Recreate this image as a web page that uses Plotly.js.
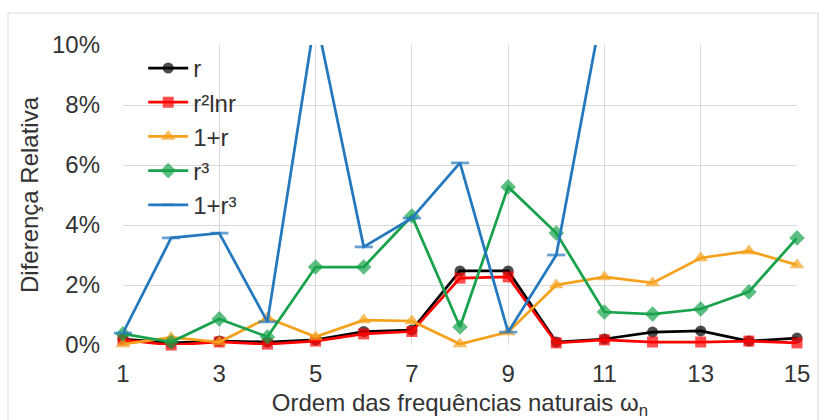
<!DOCTYPE html>
<html>
<head>
<meta charset="utf-8">
<script src="https://cdn.plot.ly/plotly-3.0.1.min.js"></script>
<style>
html,body{margin:0;padding:0;background:#fff;}
#chart{width:819px;height:420px;}
</style>
</head>
<body>
<div id="chart"></div>
<script>
// Data (relative difference, as fractions)
const order = [1,2,3,4,5,6,7,8,9,10,11,12,13,14,15];
const seriesNames = ["r", "r²lnr", "1+r", "r³", "1+r³"];
const r_vals      = [0.0020,0.0007,0.0013,0.0010,0.0017,0.0045,0.0050,0.0247,0.0247,0.0010,0.0020,0.0043,0.0047,0.0013,0.0023];
const r2lnr_vals  = [0.0017,0.0000,0.0010,0.0003,0.0013,0.0037,0.0045,0.0223,0.0227,0.0007,0.0017,0.0010,0.0010,0.0013,0.0007];
const onePlusR    = [0.0003,0.0025,0.0010,0.0090,0.0027,0.0083,0.0080,0.0003,0.0043,0.0200,0.0227,0.0207,0.0290,0.0313,0.0267];
const r3_vals     = [0.0037,0.0010,0.0087,0.0027,0.0260,0.0260,0.0430,0.0060,0.0527,0.0373,0.0110,0.0103,0.0120,0.0177,0.0357];
const onePlusR3   = [0.0040,0.0357,0.0373,0.0077,0.1100,0.0327,0.0423,0.0607,0.0043,0.0300,0.1160,0.1300,0.1400,0.1500,0.1600];
const yTicks = [0,0.02,0.04,0.06,0.08,0.10];
const xTicks = [1,3,5,7,9,11,13,15];

const yMax = 0.10;
const FONT = "Liberation Sans, Arial, sans-serif";
const TXT = "#333333";
const FS = 24;

function mk(name, y, color, symbol, size, lineW){
  return {
    x: order, y: y, name: name, type: "scatter", mode: "lines+markers",
    legendgroup: name,
    line: {color: color, width: lineW || 2.75},
    marker: {color: color, symbol: symbol,
      size: y.map(v => v > yMax ? 0 : size),
      line: {color: color, width: symbol === "line-ew" ? 2.75 : 0}},
    cliponaxis: false,
    hoverinfo: "skip"
  };
}

const traces = [
  mk(seriesNames[0], r_vals, "#000000", "circle", 11),
  mk(seriesNames[1], r2lnr_vals, "#FF0000", "square", 11),
  mk(seriesNames[2], onePlusR, "#F5A11C", "triangle-up", 13),
  mk(seriesNames[3], r3_vals, "#18A24B", "diamond", 12),
  mk(seriesNames[4], onePlusR3, "#2478BE", "line-ew", 13)
];

const layout = {
  width: 819, height: 420,
  margin: {l: 123, r: 22, t: 45, b: 75},
  paper_bgcolor: "#ffffff", plot_bgcolor: "#ffffff",
  font: {family: FONT, size: FS, color: TXT},
  showlegend: true,
  legend: {x: 0.03, y: 0.997, xanchor: "left", yanchor: "top",
    bgcolor: "rgba(255,255,255,0)", font: {family: FONT, size: FS, color: TXT},
    tracegroupgap: 0, itemwidth: 40},
  xaxis: {range: [1, 15], tickvals: xTicks, showgrid: true, gridcolor: "#D9D9D9", gridwidth: 1,
    zeroline: false, showline: false, ticks: "", ticklabelstandoff: 12,
    tickfont: {family: FONT, size: FS, color: TXT},
    title: {text: "Ordem das frequências naturais ω<sub>n</sub>", font: {family: FONT, size: FS, color: TXT}, standoff: 13}},
  yaxis: {range: [0, yMax], tickvals: yTicks, tickformat: ".0%", showgrid: true, gridcolor: "#D9D9D9", gridwidth: 1,
    zeroline: false, showline: false, ticks: "", ticklabelstandoff: 22,
    tickfont: {family: FONT, size: FS, color: TXT},
    title: {text: "Diferença Relativa", font: {family: FONT, size: FS, color: TXT}, standoff: 6}},
  shapes: [{type: "rect", xref: "paper", yref: "paper",
    x0: (8-123)/674, x1: (818-123)/674, y0: -0.3, y1: 1 + (45-13)/300,
    line: {color: "#D9D9D9", width: 1}, fillcolor: "rgba(0,0,0,0)", layer: "below"}],
  hovermode: false
};

Plotly.newPlot("chart", traces, layout, {staticPlot: true, displayModeBar: false});
</script>
</body>
</html>
